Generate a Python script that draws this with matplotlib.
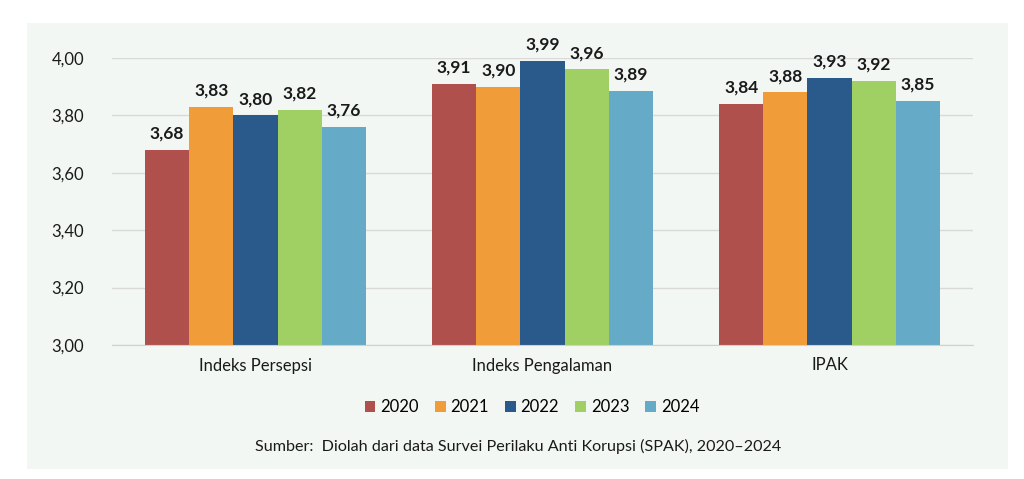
import numpy as np
import matplotlib
matplotlib.use("Agg")
import matplotlib.pyplot as plt
from matplotlib.patches import Rectangle

plt.rcParams['font.family'] = ['Lato', 'DejaVu Sans']

categories = ["Indeks Persepsi", "Indeks Pengalaman", "IPAK"]
years = ["2020", "2021", "2022", "2023", "2024"]
values = {
    "2020": [3.68, 3.91, 3.84],
    "2021": [3.83, 3.90, 3.88],
    "2022": [3.80, 3.99, 3.93],
    "2023": [3.82, 3.96, 3.92],
    "2024": [3.76, 3.885, 3.85],
}
labels = {
    "2020": ["3,68", "3,91", "3,84"],
    "2021": ["3,83", "3,90", "3,88"],
    "2022": ["3,80", "3,99", "3,93"],
    "2023": ["3,82", "3,96", "3,92"],
    "2024": ["3,76", "3,89", "3,85"],
}
colors = ["#b0504d", "#f09c38", "#2a5a8c", "#a0cf63", "#65aac6"]
yticks = [3.0, 3.2, 3.4, 3.6, 3.8, 4.0]

fig = plt.figure(figsize=(10.24, 4.79), dpi=100)
fig.patch.set_facecolor("white")
# light panel behind the chart
fig.patches.append(Rectangle((27/1024, 10/479), 981/1024, 446/479,
                             transform=fig.transFigure, facecolor="#f3f7f3",
                             edgecolor="none", zorder=-5))

ax = fig.add_axes([112/1024, 1-345/479, 861/1024, 287/479])
ax.set_facecolor("none")
ax.set_zorder(2)

x = np.arange(len(categories))
w = 0.154
for i, (yr, c) in enumerate(zip(years, colors)):
    pos = x + (i - 2) * w
    bars = ax.bar(pos, np.array(values[yr]) - 3.0, w, bottom=3.0, color=c,
                  label=yr, zorder=2)
    for b, lab in zip(bars, labels[yr]):
        ax.annotate(lab, (b.get_x() + b.get_width()/2, b.get_y() + b.get_height()),
                    xytext=(0, 6), textcoords="offset points", ha="center",
                    va="bottom", fontsize=12.5, fontweight="bold", color="#1a1a1a",
                    annotation_clip=False)

ax.set_xlim(-0.5, 2.5)
ax.set_ylim(3.0, 4.0)
ax.set_yticks(yticks)
ax.set_yticklabels([f"{t:.2f}".replace(".", ",") for t in yticks])
ax.set_xticks(x)
ax.set_xticklabels(categories)
ax.tick_params(axis="both", length=0, labelsize=12, colors="#1a1a1a")
ax.tick_params(axis="y", pad=20)
ax.tick_params(axis="x", pad=9)
ax.grid(axis="y", color="#d9d9d9", linewidth=1, zorder=0)
for s in ["top", "right", "left"]:
    ax.spines[s].set_visible(False)
ax.spines["bottom"].set_color("#d0d0d0")

leg = fig.legend(loc="center", bbox_to_anchor=(532/1024, 1-407/479), ncol=5,
                 frameon=False, fontsize=12, handlelength=0.65, handleheight=0.65,
                 handletextpad=0.3, columnspacing=0.95)

fig.text(518/1024, 1-446/479,
         "Sumber:  Diolah dari data Survei Perilaku Anti Korupsi (SPAK), 2020\u20132024",
         ha="center", va="center", fontsize=11.6, color="#1a1a1a")

fig.savefig("out.png", dpi=100)
